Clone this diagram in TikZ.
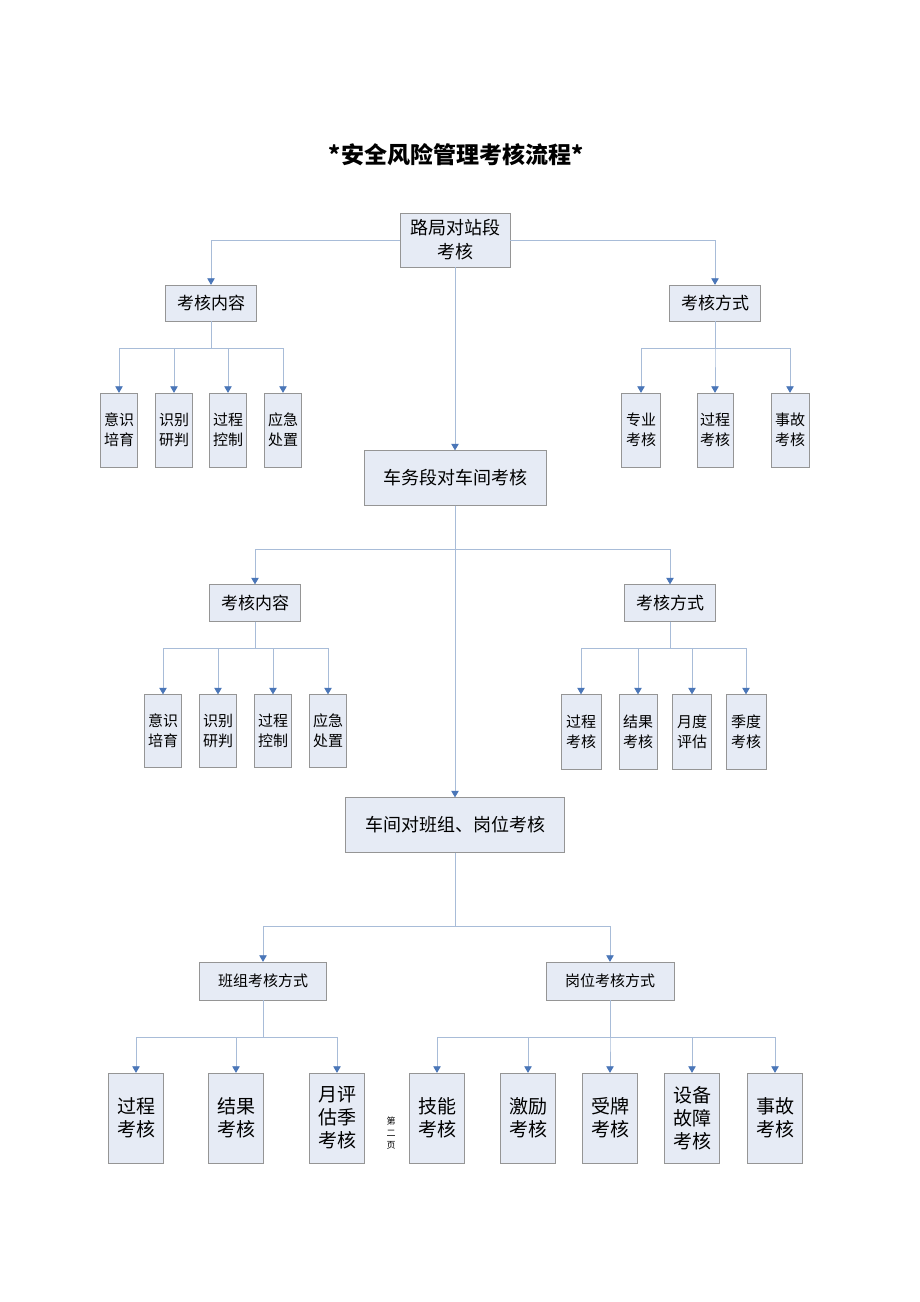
\documentclass[tikz,border=0pt]{standalone}
\usepackage{fontspec}
\usepackage{tikz}
\usetikzlibrary{arrows.meta}
\setmainfont{Noto Sans CJK SC}
\definecolor{BoxFill}{HTML}{E6EBF5}
\definecolor{BoxLine}{HTML}{959595}
\definecolor{LinkBlue}{HTML}{A8BCD8}
\definecolor{TipBlue}{HTML}{4A76B8}
\newcommand{\fsz}[2]{\fontsize{#1}{#2}\selectfont}

\begin{document}
\begin{tikzpicture}[x=1pt,y=-1pt,
  box/.style={draw=BoxLine,fill=BoxFill,inner sep=0pt,align=center},
  link/.style={draw=LinkBlue,line width=0.8pt,
    -{Triangle[width=7.5pt,length=6.5pt,color=TipBlue]}}]
   \useasboundingbox[fill=white] (0,0) rectangle (920,1302);

   \node[font=\bfseries\fsz{23}{27}] (title) at (456,155) {*安全风险管理考核流程*};

   % level 1
   \node[box,minimum width=110,minimum height=54,font=\fsz{18}{24}] (lj) at (455,240) {路局对站段\\考核};
   \node[box,minimum width=91,minimum height=36,font=\fsz{17}{22}] (ljnr) at (211,303) {考核内容};
   \node[box,minimum width=91,minimum height=36,font=\fsz{17}{22}] (ljfs) at (715,303) {考核方式};

   \node[box,minimum width=37,minimum height=74,font=\fsz{15}{20}] (ljnr1) at (119,430) {意识\\培育};
   \node[box,minimum width=37,minimum height=74,font=\fsz{15}{20}] (ljnr2) at (174,430) {识别\\研判};
   \node[box,minimum width=37,minimum height=74,font=\fsz{15}{20}] (ljnr3) at (228,430) {过程\\控制};
   \node[box,minimum width=37,minimum height=74,font=\fsz{15}{20}] (ljnr4) at (283,430) {应急\\处置};

   \node[box,minimum width=39,minimum height=74,font=\fsz{15}{20}] (ljfs1) at (641,430) {专业\\考核};
   \node[box,minimum width=36,minimum height=74,font=\fsz{15}{20}] (ljfs2) at (715,430) {过程\\考核};
   \node[box,minimum width=38,minimum height=74,font=\fsz{15}{20}] (ljfs3) at (790,430) {事故\\考核};

   % level 2
   \node[box,minimum width=182,minimum height=55,font=\fsz{18}{24}] (cw) at (455,478) {车务段对车间考核};
   \node[box,minimum width=91,minimum height=37,font=\fsz{17}{22}] (cwnr) at (255,603) {考核内容};
   \node[box,minimum width=91,minimum height=37,font=\fsz{17}{22}] (cwfs) at (670,603) {考核方式};

   \node[box,minimum width=37,minimum height=73,font=\fsz{15}{20}] (cwnr1) at (163,731) {意识\\培育};
   \node[box,minimum width=37,minimum height=73,font=\fsz{15}{20}] (cwnr2) at (218,731) {识别\\研判};
   \node[box,minimum width=37,minimum height=73,font=\fsz{15}{20}] (cwnr3) at (273,731) {过程\\控制};
   \node[box,minimum width=37,minimum height=73,font=\fsz{15}{20}] (cwnr4) at (328,731) {应急\\处置};

   \node[box,minimum width=40,minimum height=75,font=\fsz{15}{20}] (cwfs1) at (581,732) {过程\\考核};
   \node[box,minimum width=38,minimum height=75,font=\fsz{15}{20}] (cwfs2) at (638,732) {结果\\考核};
   \node[box,minimum width=39,minimum height=75,font=\fsz{15}{20}] (cwfs3) at (692,732) {月度\\评估};
   \node[box,minimum width=40,minimum height=75,font=\fsz{15}{20}] (cwfs4) at (746,732) {季度\\考核};

   % level 3
   \node[box,minimum width=219,minimum height=55,font=\fsz{18}{24}] (cj) at (455,825) {车间对班组、岗位考核};
   \node[box,minimum width=127,minimum height=38,font=\fsz{15}{20}] (bz) at (263,981) {班组考核方式};
   \node[box,minimum width=128,minimum height=38,font=\fsz{15}{20}] (gw) at (610,981) {岗位考核方式};

   \node[box,minimum width=55,minimum height=90,font=\fsz{19}{23}] (bz1) at (136,1118) {过程\\考核};
   \node[box,minimum width=55,minimum height=90,font=\fsz{19}{23}] (bz2) at (236,1118) {结果\\考核};
   \node[box,minimum width=55,minimum height=90,font=\fsz{19}{23}] (bz3) at (337,1118) {月评\\估季\\考核};

   \node[box,minimum width=55,minimum height=90,font=\fsz{19}{23}] (gw1) at (437,1118) {技能\\考核};
   \node[box,minimum width=55,minimum height=90,font=\fsz{19}{23}] (gw2) at (528,1118) {激励\\考核};
   \node[box,minimum width=55,minimum height=90,font=\fsz{19}{23}] (gw3) at (610,1118) {受牌\\考核};
   \node[box,minimum width=55,minimum height=90,font=\fsz{19}{23}] (gw4) at (692,1118) {设备\\故障\\考核};
   \node[box,minimum width=55,minimum height=90,font=\fsz{19}{23}] (gw5) at (775,1118) {事故\\考核};

   \node[font=\fsz{9}{12},align=center] (pg) at (391,1133) {第\\二\\页};

   % connectors
   \draw[link] (lj.west) -| (ljnr.north);
   \draw[link] (lj.east) -| (ljfs.north);
   \draw[link] (lj.south) -- (cw.north);
   \draw[link] (cw.south) -- (cj.north);
   \foreach \k in {1,...,4} \draw[link] (ljnr.south) -- ++(0,27) -| (ljnr\k.north);
   \foreach \k in {1,...,3} \draw[link] (ljfs.south) -- ++(0,27) -| (ljfs\k.north);
   \draw[link] (cw.south) -- ++(0,44) -| (cwnr.north);
   \draw[link] (cw.south) -- ++(0,44) -| (cwfs.north);
   \foreach \k in {1,...,4} \draw[link] (cwnr.south) -- ++(0,27) -| (cwnr\k.north);
   \foreach \k in {1,...,4} \draw[link] (cwfs.south) -- ++(0,27) -| (cwfs\k.north);
   \draw[link] (cj.south) -- ++(0,74) -| (bz.north);
   \draw[link] (cj.south) -- ++(0,74) -| (gw.north);
   \foreach \k in {1,...,3} \draw[link] (bz.south) -- ++(0,37) -| (bz\k.north);
   \foreach \k in {1,...,5} \draw[link] (gw.south) -- ++(0,37) -| (gw\k.north);
  \end{tikzpicture}
\end{document}
